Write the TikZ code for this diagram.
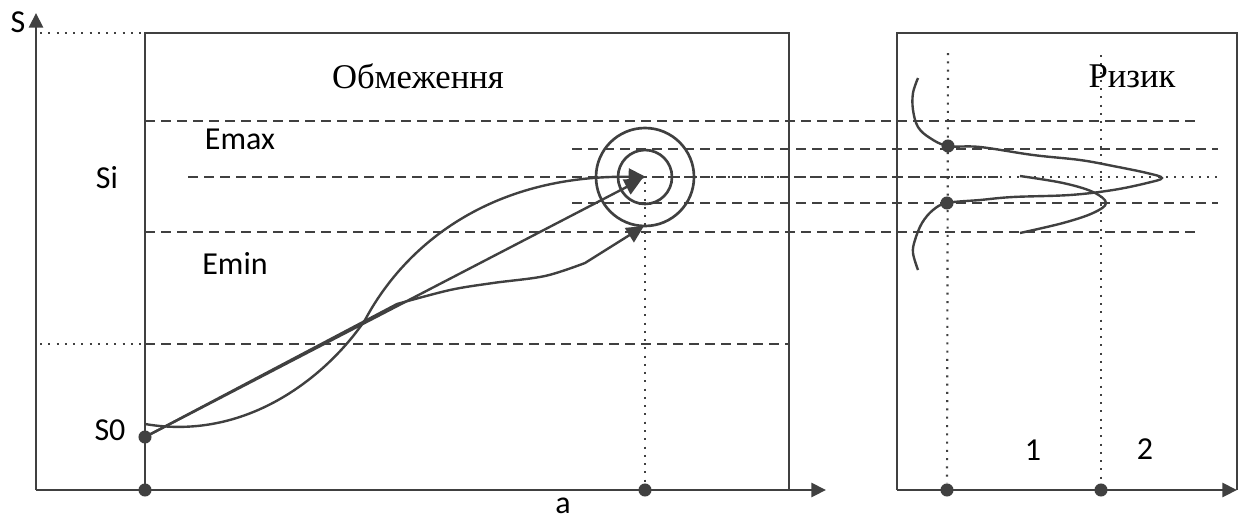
\documentclass[tikz,border=0pt]{standalone}
\usepackage{fontspec}
\setmainfont{Liberation Serif}
\newfontfamily\carl{Carlito}
\usetikzlibrary{arrows.meta}
\definecolor{ink}{HTML}{404040}
\begin{document}
\begin{tikzpicture}[x=0.75pt,y=-0.75pt,
  ln/.style={draw=ink, line width=2.2pt},
  crv/.style={draw=ink, line width=1.8pt},
  dsh/.style={draw=ink, line width=2pt, dash pattern=on 7.5pt off 4.5pt},
  dtt/.style={draw=ink, line width=1.6pt, dash pattern=on 1.5pt off 4.7pt},
  pt/.style={circle, fill=ink, inner sep=0pt, minimum size=9.8pt},
  ring/.style={circle, draw=ink, line width=2pt, inner sep=0pt},
  arr/.style={-{Triangle[length=13pt,width=12.5pt]}},
  axarr/.style={-{Triangle[length=11pt,width=10.5pt]}},
  lbl/.style={font=\carl\fontsize{24}{28}\selectfont, text=black, anchor=base, inner sep=0pt},
  ttl/.style={font=\fontsize{26}{30}\selectfont, text=black, anchor=base, inner sep=0pt}
]
\useasboundingbox (0,0) rectangle (1239,519);

% ---- coordinates ----
\coordinate (O) at (36,490);
\coordinate (Ytop) at (36,13);
\coordinate (Xend) at (826,490);
\coordinate (LB1) at (145,490);
\coordinate (LB2) at (145,33);
\coordinate (LB3) at (789,33);
\coordinate (LB4) at (789,490);
\coordinate (RB1) at (897,490);
\coordinate (RB2) at (897,33);
\coordinate (RB3) at (1237,33);
\coordinate (RB4) at (1237,490);
\coordinate (Xend2) at (1237,490);

% ---- dotted guide lines ----
\coordinate (t1) at (40,33);
\coordinate (m1) at (40,344);
\coordinate (m2) at (145,344);
\draw[dtt] (t1) -- (LB2);
\draw[dtt] (m1) -- (m2);

% ---- dashed levels ----
\coordinate (h1a) at (145,121);  \coordinate (h1b) at (1199,121);
\coordinate (h2a) at (572,149);  \coordinate (h2b) at (1218,149);
\coordinate (h3a) at (188,177);  \coordinate (h3b) at (1000,177);
\coordinate (h4a) at (572,203);  \coordinate (h4b) at (1218,203);
\coordinate (h5a) at (145,232);  \coordinate (h5b) at (1199,232);
\coordinate (h6b) at (789,344);
\draw[dsh] (h1a) -- (h1b);
\draw[dsh] (h2a) -- (h2b);
\draw[dsh] (h3a) -- (h3b);
\draw[dsh] (h4a) -- (h4b);
\draw[dsh] (h5a) -- (h5b);
\draw[dsh] (m2) -- (h6b);

% ---- target rings ----
\coordinate (C) at (645,177);
\node[ring, minimum size=73.5pt] (outer) at (C) {};
\node[ring, minimum size=40.5pt] (inner) at (C) {};
\coordinate (Cr) at (1218,177);
\draw[dtt] (C) -- (Cr);

% ---- dots ----
\node[pt] (s0) at (145,437) {};
\node[pt] (a0) at (LB1) {};
\node[pt] (a1) at (645,490) {};
\node[pt] (b1) at (947,490) {};
\node[pt] (b2) at (1101,490) {};
\node[pt] (r1) at (948,146) {};
\node[pt] (r2) at (947,203) {};

% ---- vertical dotted ----
\coordinate (v1) at (645,182);
\coordinate (v2) at (948,53);
\coordinate (v3) at (1101,55);
\draw[dtt] (v1) -- (a1);
\draw[dtt] (v2) -- (b1);
\draw[dtt] (v3) -- (b2);

% ---- axes and boxes ----
\draw[ln, axarr] (O) -- (Ytop);
\draw[ln, axarr] (O) -- (Xend);
\draw[ln] (LB1) -- (LB2) -- (LB3) -- (LB4);
\draw[ln] (RB1) -- (RB2) -- (RB3) -- (RB4);
\draw[ln, axarr] (RB1) -- (Xend2);

% ---- trajectories ----
\coordinate (tipM) at (642,179);
\coordinate (tipS) at (646,177);
\coordinate (tipL) at (644,226);
\coordinate (sS) at (145,424);
\coordinate (mid) at (365,320);
\coordinate (br) at (397,304);
\draw[crv, arr] (s0.center) -- (tipM);
\draw[crv, arr] (sS) .. controls (250,442) and (330,372) .. (mid)
   .. controls (405,245) and (490,175) .. (tipS);
\draw[crv, arr] (s0.center) -- (br) plot[smooth, tension=0.55] coordinates {(397,304) (450,290) (493,283) (545,276) (585,263)} -- (tipL);

% ---- risk curves ----
\draw[crv] plot[smooth, tension=0.6] coordinates {
 (918,78) (913,93) (913,110) (918,127) (930,138) (948,146)
 (980,147) (1033,155) (1080,160) (1113,166) (1147,173) (1162,178)
 (1147,183) (1113,190) (1070,195) (1013,197) (980,200) (947,203)
 (933,210) (922,223) (915,240) (913,253) (918,270)};
\draw[crv] plot[smooth, tension=0.6] coordinates {
 (1020,176) (1063,183) (1093,192) (1106,203) (1093,213) (1063,223) (1020,233)};

% ---- labels ----
\node[lbl] (lS) at (18,32) {S};
\node[lbl] (lSi) at (107,188) {Si};
\node[lbl] (lEmax) at (240,149) {Emax};
\node[lbl] (lEmin) at (235,274) {Emin};
\node[lbl] (lS0) at (110,440) {S0};
\node[lbl] (la) at (563,513) {a};
\node[lbl] (l1) at (1033,460) {1};
\node[lbl] (l2) at (1145,459) {2};
\node[ttl] (tObm) at (418,88) {Обмеження};
\node[ttl] (tRyz) at (1132,87) {Ризик};
\end{tikzpicture}
\end{document}
